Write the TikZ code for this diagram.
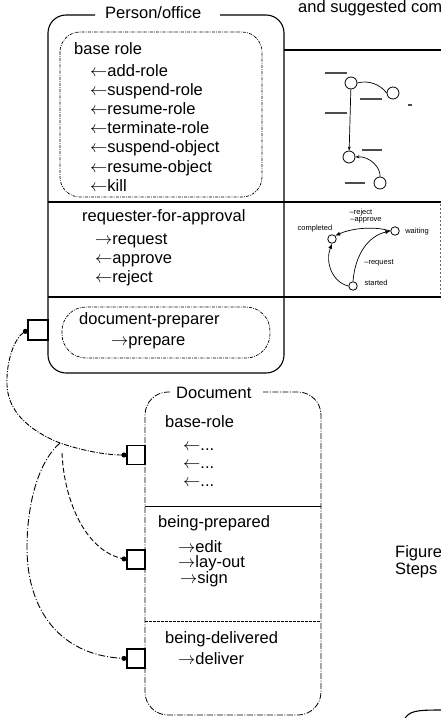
\documentclass[tikz,border=0pt]{standalone}
\usepackage{fontspec}
\setmainfont{Liberation Sans}
\usetikzlibrary{arrows.meta}
\begin{document}
\begin{tikzpicture}[x=1pt,y=-1pt,
  txt/.style={anchor=base west, inner sep=0pt, font=\fontsize{16.5}{19}\selectfont},
  tiny/.style={inner sep=0pt, font=\fontsize{7.5}{8}\selectfont},
  frame/.style={line width=1.1pt},
  rule/.style={line width=1.2pt},
  rolebox/.style={line width=0.7pt, dash pattern=on 3pt off 1.2pt on 0.8pt off 1.2pt},
  docframe/.style={line width=0.8pt, dash pattern=on 6pt off 1.5pt on 1pt off 1.5pt},
  port/.style={draw, line width=1.1pt, minimum width=19pt, minimum height=19pt, inner sep=0pt},
  linkA/.style={line width=0.9pt, dash pattern=on 5pt off 1.5pt on 1pt off 1.5pt},
  linkB/.style={line width=0.9pt, dash pattern=on 7pt off 2pt on 1pt off 2pt},
  linkC/.style={line width=0.9pt, dash pattern=on 5pt off 2.5pt},
  stbig/.style={circle, draw, line width=0.8pt, minimum size=12pt, inner sep=0pt},
  stsmall/.style={circle, draw, line width=0.8pt, minimum size=8.5pt, inner sep=0pt},
  sedge/.style={line width=0.7pt},
  blot/.style={line width=1.8pt, black!70},
]
\useasboundingbox (0,0) rectangle (441,718);

% ---------- Person/office frame ----------
\draw[frame, rounded corners=18] (95,15) -- (48,15) -- (48,373) -- (284,373) -- (284,15) -- (220,15);
\node[txt] (ptitle) at (105,18) {Person/office};
\draw[rule] (284,50) -- (441,50);
\draw[rule] (48,202) -- (441,202);
\draw[rule] (48,297) -- (441,297);
\draw[line width=0.6pt, dash pattern=on 2pt off 2pt, black!60] (440,204) -- (440,295);

% base role
\draw[rolebox, rounded corners=20] (60,32) rectangle (262,197);
\node[txt] (br) at (74,54) {base role};
\node[txt] (br1) at (90,76) {$\leftarrow$add-role};
\node[txt] (br2) at (90,95.2) {$\leftarrow$suspend-role};
\node[txt] (br3) at (90,114.4) {$\leftarrow$resume-role};
\node[txt] (br4) at (90,133.6) {$\leftarrow$terminate-role};
\node[txt] (br5) at (90,152.8) {$\leftarrow$suspend-object};
\node[txt] (br6) at (90,172) {$\leftarrow$resume-object};
\node[txt] (br7) at (90,191.2) {$\leftarrow$kill};

% requester-for-approval
\node[txt] (rq) at (82,221.5) {requester-for-approval};
\node[txt] (rq1) at (95,244) {$\rightarrow$request};
\node[txt] (rq2) at (95,263) {$\leftarrow$approve};
\node[txt] (rq3) at (95,282) {$\leftarrow$reject};

% document-preparer
\draw[rolebox, rounded corners=24] (62,307) rectangle (270,358);
\node[txt] (dp) at (79,324) {document-preparer};
\node[txt] (dpa) at (111,345.5) {$\rightarrow$prepare};

% ---------- state diagram of the base role ----------
\node[stbig] (sA) at (351,83) {};
\node[stbig] (sB) at (393,93) {};
\node[stbig] (sC) at (349,157) {};
\node[stbig] (sD) at (380,183) {};
\draw[sedge] (sA.east) .. controls (368,80) and (380,84) .. (sB.west);
\draw[sedge, -{Stealth[length=4pt,width=3pt]}] (sA) -- (sC);
\draw[sedge, -{Stealth[length=4pt,width=3pt]}] (sD.north) .. controls (381,168) and (370,156) .. (sC.east);
\draw[blot] (325,73) -- (347,73);
\draw[blot] (360,99) -- (382,99);
\draw[blot] (325,113) -- (347,113);
\draw[blot] (408,105) -- (412,105);
\draw[blot] (362,150) -- (382,150);
\draw[blot] (345,183) -- (365,183);

% ---------- state diagram of requester-for-approval ----------
\node[stsmall] (sCo) at (332,239) {};
\node[stsmall] (sW) at (395,231) {};
\node[stsmall] (sS) at (353,286) {};
\draw[sedge, -{Latex[length=5pt,width=4pt]}] (sW.west) .. controls (375,226) and (352,228) .. (sCo.north east);
\draw[sedge, -{Latex[length=5pt,width=4pt]}] (sS.north) .. controls (355,255) and (368,236) .. (sW.west);
\draw[sedge, -{Latex[length=5pt,width=4pt]}] (sS.west) .. controls (332,282) and (325,262) .. (sCo.south);
\node[tiny] (lrej) at (361,213) {–reject};
\node[tiny] (lapp) at (366,220) {–approve};
\node[tiny] (lcom) at (315,229) {completed};
\node[tiny] (lwai) at (417,232) {waiting};
\node[tiny] (lreq) at (379,263) {–request};
\node[tiny] (lsta) at (376,283) {started};

% ---------- Document frame ----------
\draw[docframe, rounded corners=23] (170,392) -- (145,392) -- (145,715) -- (321,715) -- (321,392) -- (263,392);
\node[txt] (dtitle) at (176,398) {Document};
\draw[line width=1pt] (145,506) -- (321,506);
\draw[line width=0.9pt, dash pattern=on 3pt off 1pt] (145,621) -- (321,621);

\node[txt] (db) at (165,427) {base-role};
\node[txt] (db1) at (183,450) {$\leftarrow$...};
\node[txt] (db2) at (183,468) {$\leftarrow$...};
\node[txt] (db3) at (183,486) {$\leftarrow$...};

\node[txt] (bp) at (158,527.5) {being-prepared};
\node[txt] (bp1) at (178,552) {$\rightarrow$edit};
\node[txt] (bp2) at (178,567.5) {$\rightarrow$lay-out};
\node[txt] (bp3) at (180,583) {$\rightarrow$sign};

\node[txt] (bd) at (165,643) {being-delivered};
\node[txt] (bd1) at (178,664.5) {$\rightarrow$deliver};

% ---------- ports and bindings ----------
\node[port, minimum width=20pt, minimum height=20pt] (pp) at (38,330) {};
\node[port, minimum width=18pt] (dp1) at (136,455) {};
\node[port, minimum width=18pt] (dp2) at (136,559.5) {};
\node[port, minimum width=18pt] (dp3) at (136,658.5) {};
\coordinate (fork) at (60,443);
\coordinate (bend) at (7,385);
\coordinate (low) at (27,548);
\coordinate (split) at (62,453);

\draw[linkA, {Circle[length=5pt]}-{Circle[length=5pt]}] (dp1.west) .. controls (105,455) and (80,450) .. (fork)
   .. controls (35,433) and (8,415) .. (bend) .. controls (6,360) and (15,338) .. (pp.west);
\draw[linkB, -{Circle[length=5pt]}] (fork) .. controls (40,460) and (27,500) .. (low)
   .. controls (27,610) and (60,655) .. (dp3.west);
\draw[linkC, -{Circle[length=5pt]}] (split) .. controls (64,500) and (85,550) .. (dp2.west);

% ---------- surrounding text ----------
\node[txt] (cap0) at (298,12) {and suggested com};
\node[txt] (cap1) at (395,557) {Figure};
\node[txt] (cap2) at (395,574) {Steps};
\draw[frame] (404,720) .. controls (409,711) and (415,710) .. (441,710);
\end{tikzpicture}
\end{document}
